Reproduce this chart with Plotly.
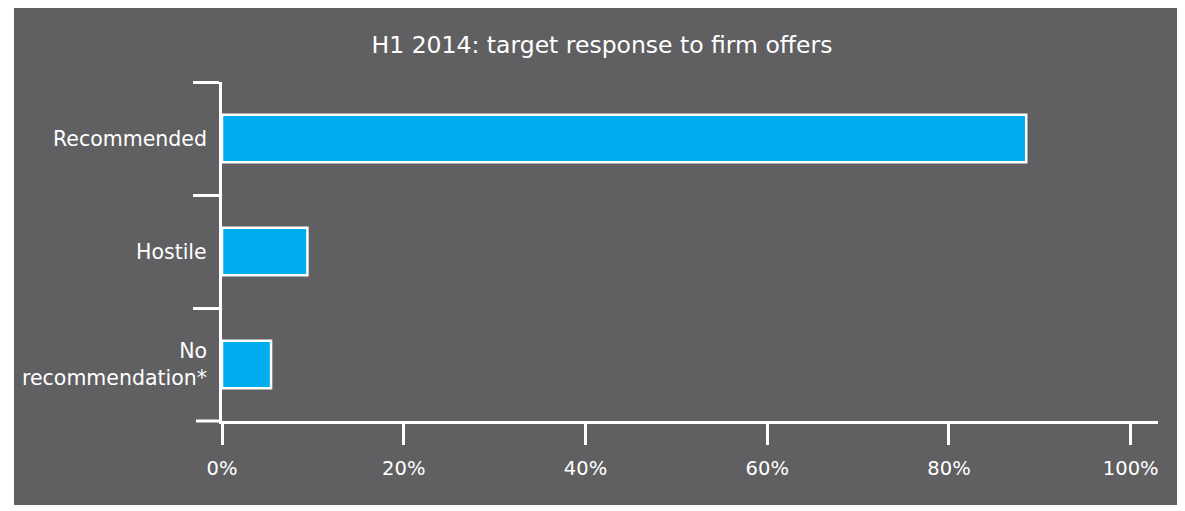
import plotly.graph_objects as go

# H1 2014 target response to firm offers (share of offers)
categories = ["Recommended", "Hostile", "No<br>recommendation*"]
shares = [0.885, 0.094, 0.054]
x_ticks = [0, 0.2, 0.4, 0.6, 0.8, 1.0]
x_labels = ["0%", "20%", "40%", "60%", "80%", "100%"]

# page has an 8px body margin, so figure coords = page coords - 8
W, H = 1177, 503
ML, MR, MT, MB = 214, 27, 74, 90
PW, PH = W - ML - MR, H - MT - MB

PANEL = "#606062"
FONT = "'DejaVu Sans', sans-serif"


def px_x(p):
    return (p - ML) / PW


def px_y(p):
    return 1 - (p - MT) / PH


fig = go.Figure(go.Bar(
    x=shares,
    y=categories,
    orientation="h",
    width=0.42,
    marker=dict(color="#00aeef", line=dict(color="white", width=2.5)),
    hoverinfo="x+y",
))

# dark panel behind the chart
fig.add_shape(type="rect", xref="paper", yref="paper",
              x0=px_x(6), x1=px_x(1172), y0=px_y(497), y1=px_y(0),
              fillcolor=PANEL, line=dict(width=0), layer="below")
# last boundary tick of the y axis (plotly skips it)
fig.add_shape(type="line", xref="paper", yref="paper",
              x0=px_x(188), x1=0, y0=0, y1=0,
              line=dict(color="white", width=3))

# category labels, right aligned a little left of the axis
for cat in categories:
    fig.add_annotation(text=cat, x=px_x(201), xref="paper", y=cat, yref="y",
                       xanchor="right", yanchor="middle", align="right",
                       showarrow=False,
                       font=dict(size=20.5, color="white", family=FONT))

fig.update_layout(
    width=W, height=H,
    margin=dict(l=ML, r=MR, t=MT, b=MB),
    paper_bgcolor="white",
    plot_bgcolor="rgba(0,0,0,0)",
    showlegend=False,
    font=dict(family=FONT, color="white", size=18),
    title=dict(text="H1 2014: target response to firm offers",
               x=594 / W, xref="container", xanchor="center",
               y=1 - 37 / H, yref="container", yanchor="middle",
               font=dict(size=23.5, color="white", family=FONT)),
)

fig.update_xaxes(
    range=[0, 1.03], tickvals=x_ticks, ticktext=x_labels,
    showgrid=False, zeroline=False,
    showline=True, linecolor="white", linewidth=3,
    ticks="outside", ticklen=21, tickwidth=3, tickcolor="white",
    ticklabelstandoff=7,
    tickfont=dict(size=19.5, color="white"),
)
fig.update_yaxes(
    type="category", autorange="reversed",
    tickson="boundaries", showticklabels=False,
    showgrid=False, zeroline=False,
    showline=True, linecolor="white", linewidth=3,
    ticks="outside", ticklen=26, tickwidth=3, tickcolor="white",
)

fig.write_html("out.html")
